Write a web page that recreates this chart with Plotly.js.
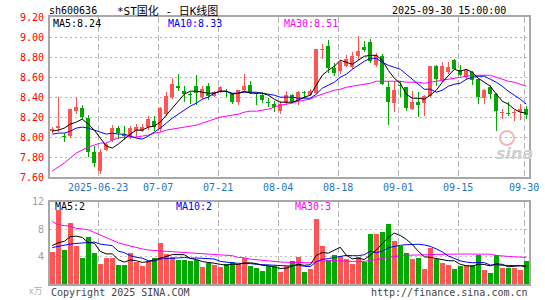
<!DOCTYPE html>
<html><head><meta charset="utf-8">
<script src="https://cdn.plot.ly/plotly-3.0.1.min.js"></script>
<style>html,body{margin:0;padding:0;background:#fff;}#chart{width:545px;height:300px;}</style>
</head><body><div id="chart"></div>
<script>
const dates = ['2025-06-11','2025-06-12','2025-06-13','2025-06-16','2025-06-17','2025-06-18','2025-06-19','2025-06-20','2025-06-23','2025-06-24','2025-06-25','2025-06-26','2025-06-27','2025-06-30',
'2025-07-01','2025-07-02','2025-07-03','2025-07-04','2025-07-07','2025-07-08','2025-07-09','2025-07-10','2025-07-11','2025-07-14','2025-07-15','2025-07-16','2025-07-17','2025-07-18','2025-07-21','2025-07-22','2025-07-23','2025-07-24','2025-07-25','2025-07-28','2025-07-29','2025-07-30','2025-07-31',
'2025-08-01','2025-08-04','2025-08-05','2025-08-06','2025-08-07','2025-08-08','2025-08-11','2025-08-12','2025-08-13','2025-08-14','2025-08-15','2025-08-18','2025-08-19','2025-08-20','2025-08-21','2025-08-22','2025-08-25','2025-08-26','2025-08-27','2025-08-28','2025-08-29',
'2025-09-01','2025-09-02','2025-09-03','2025-09-04','2025-09-05','2025-09-08','2025-09-09','2025-09-10','2025-09-11','2025-09-12','2025-09-15','2025-09-16','2025-09-17','2025-09-18','2025-09-19','2025-09-22','2025-09-23','2025-09-24','2025-09-25','2025-09-26','2025-09-29','2025-09-30'];

const open  = [8.06,8.09,8.01,8.01,8.26,8.29,8.19,7.85,7.66,7.87, 7.97,8.09,8.03,8.00,8.06,8.06,8.10,8.16,8.08,8.23, 8.40,8.51,8.46,8.43,8.51,8.40,8.51,8.41,8.45,8.46, 8.43,8.35,8.47,8.52,8.44,8.42,8.35,8.33,8.26,8.34, 8.42,8.36,8.45,8.42,8.44,8.87,8.91,8.69,8.66,8.71, 8.70,8.81,8.90,8.95,8.72,8.81,8.50,8.34,8.52,8.50, 8.28,8.35,8.34,8.41,8.71,8.57,8.65,8.77,8.67,8.60, 8.65,8.58,8.39,8.50,8.43,8.24,8.24,8.24,8.25,8.28];
const high  = [8.10,8.40,8.04,8.28,8.40,8.32,8.22,7.91,7.88,7.94, 8.12,8.11,8.11,8.11,8.13,8.13,8.21,8.21,8.30,8.45, 8.59,8.63,8.51,8.45,8.62,8.51,8.54,8.46,8.51,8.48, 8.44,8.47,8.63,8.56,8.44,8.45,8.39,8.36,8.36,8.46, 8.43,8.46,8.46,8.48,8.88,8.93,8.97,8.74,8.77,8.82, 8.85,9.01,8.96,8.98,8.84,8.83,8.56,8.56,8.56,8.50, 8.46,8.45,8.42,8.71,8.72,8.75,8.75,8.78,8.72,8.68, 8.66,8.59,8.48,8.52,8.44,8.28,8.35,8.27,8.33,8.31];
const low   = [8.04,8.05,7.95,7.99,8.23,8.18,7.80,7.70,7.63,7.86, 7.95,7.98,7.97,7.98,8.00,8.05,8.07,8.06,8.05,8.21, 8.38,8.46,8.35,8.33,8.32,8.38,8.37,8.40,8.44,8.40, 8.33,8.32,8.46,8.43,8.32,8.34,8.30,8.25,8.23,8.32, 8.34,8.32,8.39,8.41,8.43,8.78,8.64,8.61,8.63,8.70, 8.68,8.77,8.85,8.74,8.70,8.52,8.12,8.25,8.40,8.26, 8.27,8.20,8.21,8.40,8.51,8.55,8.63,8.67,8.61,8.57, 8.52,8.33,8.33,8.38,8.06,8.18,8.21,8.16,8.17,8.18];
const close = [8.08,8.11,8.00,8.28,8.30,8.20,7.85,7.74,7.85,7.93, 8.09,8.04,8.01,8.09,8.10,8.10,8.18,8.10,8.29,8.41, 8.53,8.49,8.43,8.42,8.44,8.48,8.41,8.45,8.50,8.45, 8.35,8.47,8.51,8.44,8.43,8.37,8.34,8.30,8.33,8.42, 8.35,8.45,8.44,8.46,8.88,8.88,8.69,8.64,8.75,8.78, 8.81,8.86,8.87,8.76,8.82,8.53,8.35,8.47,8.51,8.29, 8.35,8.32,8.41,8.71,8.58,8.71,8.70,8.68,8.62,8.67, 8.57,8.40,8.47,8.43,8.26,8.25,8.23,8.25,8.28,8.22];

const ma5  = [8.06,8.07,8.09,8.13,8.15,8.18,8.13,8.07,7.99,7.91, 7.89,7.93,7.98,8.03,8.07,8.07,8.10,8.11,8.15,8.22, 8.30,8.36,8.43,8.46,8.46,8.45,8.44,8.44,8.46,8.46, 8.43,8.44,8.46,8.44,8.44,8.44,8.42,8.38,8.35,8.35, 8.35,8.37,8.40,8.42,8.52,8.62,8.67,8.71,8.77,8.75, 8.73,8.77,8.81,8.82,8.82,8.77,8.67,8.59,8.54,8.43, 8.39,8.39,8.38,8.42,8.47,8.55,8.62,8.68,8.66,8.68, 8.65,8.59,8.55,8.51,8.43,8.36,8.33,8.28,8.25,8.24];
const ma10 = [8.03,8.04,8.04,8.06,8.09,8.10,8.09,8.07,8.05,8.03, 8.04,8.03,8.03,8.01,7.99,7.98,8.01,8.05,8.09,8.14, 8.19,8.23,8.27,8.31,8.34,8.38,8.40,8.44,8.46,8.46, 8.44,8.44,8.45,8.45,8.45,8.44,8.43,8.42,8.40,8.40, 8.40,8.39,8.39,8.39,8.43,8.49,8.52,8.55,8.60,8.63, 8.68,8.72,8.76,8.79,8.79,8.75,8.72,8.70,8.68,8.63, 8.58,8.53,8.48,8.48,8.45,8.47,8.51,8.53,8.54,8.58, 8.60,8.61,8.61,8.58,8.55,8.51,8.46,8.42,8.38,8.33];
const ma30 = [7.66,7.70,7.74,7.79,7.84,7.87,7.90,7.92,7.94,7.94, 7.97,7.99,8.00,8.00,8.00,8.01,8.02,8.04,8.05,8.07, 8.08,8.09,8.10,8.11,8.12,8.14,8.16,8.18,8.20,8.21, 8.22,8.23,8.25,8.26,8.26,8.27,8.28,8.30,8.32,8.33, 8.34,8.36,8.37,8.38,8.41,8.43,8.45,8.47,8.48,8.50, 8.51,8.52,8.53,8.54,8.56,8.56,8.56,8.56,8.56,8.55, 8.55,8.55,8.54,8.55,8.56,8.57,8.58,8.59,8.60,8.61, 8.62,8.62,8.62,8.62,8.60,8.58,8.56,8.55,8.53,8.51];

const volume = [4.7,10.7,4.9,8.9,5.6,3.8,6.9,4.5,2.9,3.8, 3.8,2.7,2.7,4.5,3.2,2.6,3.3,3.8,6.0,4.3, 4.0,3.5,3.5,3.3,3.5,2.5,3.1,2.7,2.5,2.9, 3.2,2.9,3.8,2.6,2.4,1.9,2.6,2.6,1.8,2.6, 3.4,4.0,1.8,2.2,9.4,5.5,3.5,4.2,4.1,3.6, 2.9,4.0,3.2,7.3,7.3,7.5,8.7,6.2,5.6,4.5, 3.7,3.8,2.2,5.2,3.7,3.1,2.7,2.2,2.6,2.7, 2.7,4.2,2.0,1.6,4.2,2.3,2.4,2.4,2.0,3.3];
const vma5  = [5.6,6.0,6.2,6.9,6.96,6.78,6.02,5.94,4.74,4.38, 4.38,3.54,3.18,3.50,3.38,3.14,3.26,3.48,3.78,4.00, 4.28,4.32,4.26,3.72,3.56,3.26,3.18,3.02,2.86,2.74, 2.88,2.84,3.06,3.08,2.98,2.72,2.66,2.42,2.26,2.30, 2.60,2.88,2.72,2.80,4.16,4.58,4.48,4.96,5.34,4.18, 3.66,3.76,3.56,4.20,4.94,5.86,6.80,7.40,7.06,6.50, 5.74,4.76,3.96,3.88,3.72,3.60,3.38,3.38,2.86,2.66, 2.58,2.88,2.84,2.64,2.94,2.86,2.50,2.58,2.66,2.48];
const vma10 = [5.3,5.5,5.6,5.8,5.9,6.0,6.1,6.1,5.8,5.67, 5.58,4.78,4.56,4.12,3.88,3.76,3.40,3.33,3.64,3.69, 3.71,3.79,3.87,3.75,3.78,3.77,3.75,3.64,3.29,3.15, 3.07,3.01,3.04,2.97,2.86,2.80,2.75,2.74,2.67,2.64, 2.66,2.77,2.57,2.53,3.23,3.59,3.68,3.84,4.07,4.17, 4.12,4.12,4.26,4.77,4.56,4.76,5.28,5.48,5.63,5.72, 5.80,5.78,5.68,5.47,5.11,4.67,4.07,3.67,3.37,3.19, 3.09,3.13,3.11,2.75,2.80,2.72,2.69,2.71,2.65,2.71];
const vma30 = [9.1,8.6,8.5,8.4,8.1,8.0,7.9,7.5,7.1,6.7, 6.4,6.0,5.75,5.5,5.3,5.1,4.95,4.85,4.8,4.75, 4.7,4.65,4.6,4.5,4.45,4.4,4.3,4.25,4.2,4.17, 4.12,3.86,3.82,3.61,3.51,3.44,3.30,3.24,3.20,3.16, 3.15,3.19,3.16,3.08,3.29,3.39,3.39,3.41,3.34,3.32, 3.28,3.30,3.29,3.42,3.55,3.72,3.90,4.02,4.12,4.18, 4.19,4.22,4.17,4.26,4.30,4.34,4.34,4.33,4.36,4.36, 4.34,4.34,4.35,4.33,4.16,4.05,4.01,3.95,3.88,3.87];

const tickDates  = ['2025-06-23','2025-07-07','2025-07-21','2025-08-04','2025-08-18','2025-09-01','2025-09-15','2025-09-30'];
const tickLabels = ['2025-06-23','07-07','07-21','08-04','08-18','09-01','09-15','09-30'];
const priceTicks = [7.60,7.80,8.00,8.20,8.40,8.60,8.80,9.00,9.20];
const volTicks = [4,8,12];

const UP = '#ff5555', DOWN = '#00a800';
const idx = dates.map((d, i) => i);
const col = close.map((c, i) => c >= open[i] ? UP : DOWN);
const tickPos = tickDates.map(d => dates.indexOf(d) - 0.36);

const mono = 'DejaVu Sans Mono, Liberation Mono, monospace';

const traces = [
  {type:'bar', x:idx, base:low, y:high.map((h,i)=>h-low[i]), width:0.17, marker:{color:col, line:{width:0}}, xaxis:'x', yaxis:'y', hoverinfo:'skip'},
  {type:'bar', x:idx, base:open.map((o,i)=>Math.min(o,close[i])), y:open.map((o,i)=>Math.max(Math.abs(close[i]-o),0.01)), width:0.68, marker:{color:col, line:{width:0}}, xaxis:'x', yaxis:'y', hoverinfo:'skip'},
  {type:'scatter', mode:'lines', x:idx, y:ma30, line:{color:'#ff00ff', width:1}, xaxis:'x', yaxis:'y'},
  {type:'scatter', mode:'lines', x:idx, y:ma10, line:{color:'#0000ff', width:1}, xaxis:'x', yaxis:'y'},
  {type:'scatter', mode:'lines', x:idx, y:ma5, line:{color:'#000000', width:1}, xaxis:'x', yaxis:'y'},
  {type:'bar', x:idx, y:volume, width:0.8, marker:{color:col, line:{width:0}}, xaxis:'x2', yaxis:'y2', hoverinfo:'skip'},
  {type:'scatter', mode:'lines', x:idx, y:vma30, line:{color:'#ff00ff', width:1}, xaxis:'x2', yaxis:'y2'},
  {type:'scatter', mode:'lines', x:idx, y:vma10, line:{color:'#0000ff', width:1}, xaxis:'x2', yaxis:'y2'},
  {type:'scatter', mode:'lines', x:idx, y:vma5, line:{color:'#000000', width:1}, xaxis:'x2', yaxis:'y2'}
];

const W = 545, H = 300;
const px = v => v / W, py = v => 1 - v / H;
const xr = [-0.38, 79.45];
const frame = {showline:true, mirror:true, linecolor:'#a8a8a8', linewidth:2, zeroline:false, ticks:'', fixedrange:true};

function ann(text, x, y, color, xanchor, size, family){
  return {text:text, x:px(x), y:py(y), xref:'paper', yref:'paper', xanchor:xanchor||'left', yanchor:'middle', showarrow:false,
          font:{family:family||mono, size:size||10, color:color||'#000'}};
}

const layout = {
  width:W, height:H, margin:{l:0,r:0,t:0,b:0}, paper_bgcolor:'#fff', plot_bgcolor:'#fff',
  showlegend:false, barmode:'overlay', bargap:0,
  xaxis: Object.assign({}, frame, {domain:[px(50), px(529)], range:xr, anchor:'y', tickmode:'array', tickvals:tickPos, ticktext:tickLabels,
          tickfont:{family:mono, size:10, color:'#1a78c8'}, showgrid:true, gridcolor:'#b4b4b4', griddash:'6px,3px', gridwidth:1}),
  yaxis: Object.assign({}, frame, {domain:[py(177), py(17.4)], range:[7.6,9.2], tickmode:'array', tickvals:priceTicks, ticktext:priceTicks.map(v=>v.toFixed(2)),
          tickfont:{family:mono, size:10, color:'#ff0000'}, showgrid:true, gridcolor:'#b4b4b4', griddash:'2px,3px', gridwidth:1, ticklabelstandoff:2}),
  xaxis2: Object.assign({}, frame, {domain:[px(50), px(529)], range:xr, anchor:'y2', tickmode:'array', tickvals:tickPos, showticklabels:false,
          showgrid:true, gridcolor:'#b4b4b4', griddash:'6px,3px', gridwidth:1}),
  yaxis2: Object.assign({}, frame, {domain:[py(284), py(201.5)], range:[0,12], tickmode:'array', tickvals:volTicks,
          tickfont:{family:mono, size:10, color:'#a0a0a0'}, showgrid:true, gridcolor:'#c0c0c0', griddash:'2px,3px', gridwidth:1, ticklabelstandoff:2}),
  annotations: [
    ann('sh600636', 47, 11, '#000', 'left', 10),
    ann('*ST国化 - 日K线图', 115, 11, '#000', 'left', 11, 'DejaVu Sans Mono, Noto Sans CJK SC'),
    ann('2025-09-30 15:00:00', 508, 11, '#000', 'right', 10),
    ann('MA5:8.24', 51, 24, '#000000', 'left', 10),
    ann('MA10:8.33', 166, 24, '#0000ff', 'left', 10),
    ann('MA30:8.51', 282, 24, '#ff00ff', 'left', 10),
    ann('MA5:2', 53, 206, '#000000', 'left', 10),
    ann('MA10:2', 174, 206, '#0000ff', 'left', 10),
    ann('MA30:3', 293, 206, '#ff00ff', 'left', 10),
    ann('x万', 44, 290, '#b0b0b0', 'right', 9, 'Noto Sans CJK SC, DejaVu Sans'),
    ann('Copyright 2025 SINA.COM', 49, 292, '#444', 'left', 10),
    ann('http://finance.sina.com.cn', 530, 292, '#444', 'right', 10),
    {text:'<b><i>sina</i></b>', x:px(514), y:py(153), xref:'paper', yref:'paper', xanchor:'center', yanchor:'middle', showarrow:false,
     font:{family:'DejaVu Sans', size:16, color:'#cfcfcf'}}
  ],
  shapes: [
    {type:'circle', xref:'paper', yref:'paper', x0:px(500), x1:px(514), y0:py(145), y1:py(131), line:{color:'#f0b8b8', width:2}, fillcolor:'rgba(0,0,0,0)'}
  ]
};

Plotly.newPlot('chart', traces, layout, {staticPlot:true, displayModeBar:false});
</script>
</body></html>
